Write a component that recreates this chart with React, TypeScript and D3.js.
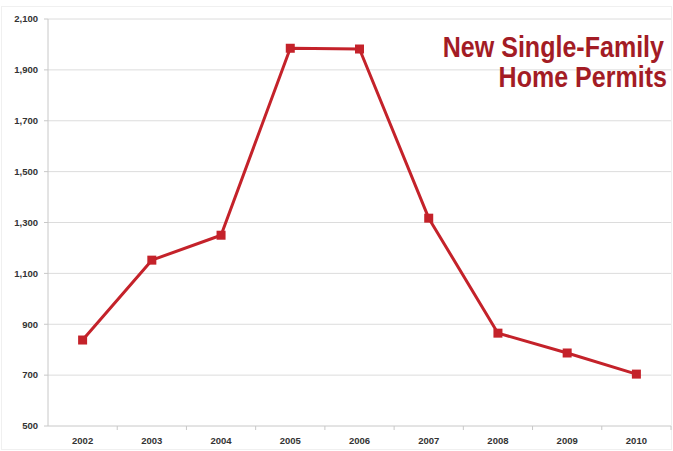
import React from "react";
import * as d3 from "d3";

const years = ["2002", "2003", "2004", "2005", "2006", "2007", "2008", "2009", "2010"];
const permits = [838, 1152, 1250, 1985, 1982, 1317, 865, 787, 704];
const yTicks = [500, 700, 900, 1100, 1300, 1500, 1700, 1900, 2100];
const titleLines = ["New Single-Family", "Home Permits"];

const W = 673;
const H = 451;
const M = { left: 48, right: 2, top: 19, bottom: 25 };

export default function App() {
  const x = d3.scaleBand<string>().domain(years).range([M.left, W - M.right]);
  const y = d3.scaleLinear().domain([500, 2100]).range([H - M.bottom, M.top]);
  const cx = (d: string) => (x(d) as number) + x.bandwidth() / 2;
  const line = d3
    .line<number>()
    .x((_, i) => cx(years[i]))
    .y((v) => y(v));
  const fmt = d3.format(",");
  const red = "#c4222a";
  const sx = 0.835;
  return (
    <svg
      width={W}
      height={H}
      style={{ position: "absolute", left: 0, top: 0, background: "#fff" }}
      fontFamily="Liberation Sans, Arial, sans-serif"
    >
      <rect x={1.5} y={6.5} width={W - 3} height={H - 8} fill="none" stroke="#f0f0f0" />
      {yTicks.map((t) => (
        <g key={t}>
          {t > 500 && (
            <line x1={M.left} x2={W - M.right} y1={y(t)} y2={y(t)} stroke="#dcdcdc" strokeWidth={1} />
          )}
          <line x1={M.left - 4} x2={M.left} y1={y(t)} y2={y(t)} stroke="#c8c8c8" />
          <text
            x={M.left - 10}
            y={y(t)}
            dy="0.35em"
            textAnchor="end"
            fontSize={9.5}
            fontWeight="bold"
            fill="#333"
          >
            {fmt(t)}
          </text>
        </g>
      ))}
      <line x1={M.left} x2={M.left} y1={M.top} y2={H - M.bottom} stroke="#c8c8c8" />
      <line x1={M.left} x2={W - M.right} y1={H - M.bottom} y2={H - M.bottom} stroke="#c8c8c8" />
      {years.map((yr) => (
        <g key={yr}>
          <line
            x1={(x(yr) as number) + x.bandwidth()}
            x2={(x(yr) as number) + x.bandwidth()}
            y1={H - M.bottom}
            y2={H - M.bottom + 4}
            stroke="#c8c8c8"
          />
          <text x={cx(yr)} y={H - 7} textAnchor="middle" fontSize={9.5} fontWeight="bold" fill="#333">
            {yr}
          </text>
        </g>
      ))}
      <path d={line(permits) || ""} fill="none" stroke={red} strokeWidth={3} strokeLinejoin="round" />
      {permits.map((v, i) => (
        <rect key={i} x={cx(years[i]) - 4.5} y={y(v) - 4.5} width={9} height={9} fill={red} />
      ))}
      <text
        transform={`scale(${sx},1)`}
        textAnchor="end"
        fontWeight="bold"
        fontSize={30}
        fill="#a31c25"
      >
        {titleLines.map((t, i) => (
          <tspan key={t} x={(i === 0 ? 664 : 667) / sx} y={57 + i * 30}>
            {t}
          </tspan>
        ))}
      </text>
    </svg>
  );
}
